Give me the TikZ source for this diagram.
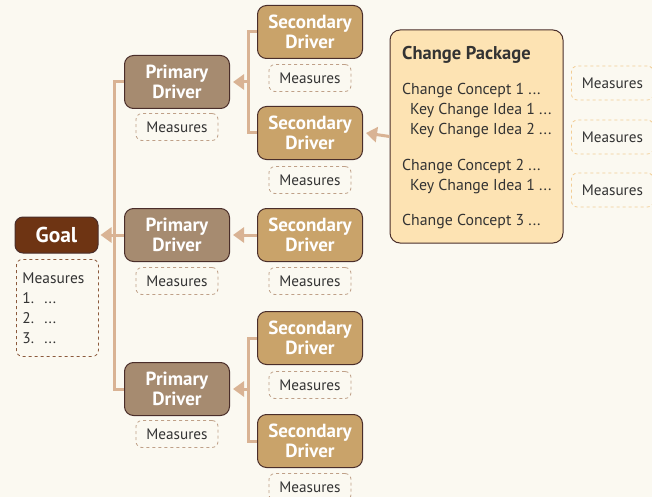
\documentclass[tikz,border=0pt]{standalone}
\usepackage{fontspec}
\setmainfont{PT Sans}
\usetikzlibrary{arrows.meta}

\definecolor{bgcol}{HTML}{FBF9F1}
\definecolor{goalcol}{HTML}{6E3413}
\definecolor{primcol}{HTML}{A68B70}
\definecolor{seccol}{HTML}{C9A36A}
\definecolor{pkgcol}{HTML}{FDE3B3}
\definecolor{edgecol}{HTML}{4A2E2A}
\definecolor{linkcol}{HTML}{D9B394}
\definecolor{meascol}{HTML}{BFA088}
\definecolor{goalmeas}{HTML}{8B5A3C}
\definecolor{pkgmeas}{HTML}{F2CD96}
\definecolor{txtcol}{HTML}{333333}

\begin{document}
\begin{tikzpicture}[x=1pt, y=-1pt,
  driverbox/.style={rectangle, rounded corners=9pt, draw=edgecol, line width=1pt, text=white, font=\bfseries\fontsize{19}{20}\selectfont, align=center, minimum width=105pt, minimum height=53pt, inner sep=0pt},
  primary/.style={driverbox, fill=primcol},
  secondary/.style={driverbox, fill=seccol},
  measbox/.style={rectangle, rounded corners=6pt, draw=meascol, dashed, line width=0.8pt, text=txtcol, font=\fontsize{15.2}{16}\selectfont, minimum width=82pt, minimum height=27pt, inner sep=0pt},
  pkgline/.style={anchor=base west, text=txtcol, font=\fontsize{15.8}{16}\selectfont, inner sep=0pt},
  link/.style={draw=linkcol, line width=3pt},
  linkarrow/.style={link, -{Triangle[width=15pt,length=11pt]}}
]

\fill[bgcol] (0,0) rectangle (652,497);
\useasboundingbox (0,0) rectangle (652,497);

% goal
\node (goal) [rectangle, rounded corners=8pt, draw=edgecol, line width=1pt, fill=goalcol, text=white, font=\bfseries\fontsize{21.5}{22}\selectfont, minimum width=83pt, minimum height=36pt, inner sep=0pt] at (56.5,235) {Goal};
\node (goalm) [measbox, draw=goalmeas, minimum width=82pt, minimum height=97pt, text width=70pt, align=left, anchor=north west, inner sep=6pt, font=\fontsize{15.4}{20}\selectfont] at (16,259) {Measures\\1.\ \ ...\\2.\ \ ...\\3.\ \ ...};

% primary drivers
\node (p1) [primary] at (177,82) {Primary\\Driver};
\node (p2) [primary] at (177,235) {Primary\\Driver};
\node (p3) [primary] at (177,389) {Primary\\Driver};
\node (p1m) [measbox] at (177,127) {Measures};
\node (p2m) [measbox] at (177,281) {Measures};
\node (p3m) [measbox] at (177,434) {Measures};

% secondary drivers
\node (s1) [secondary] at (310,32) {Secondary\\Driver};
\node (s2) [secondary] at (310,133) {Secondary\\Driver};
\node (s3) [secondary] at (310,235) {Secondary\\Driver};
\node (s4) [secondary] at (310,338) {Secondary\\Driver};
\node (s5) [secondary] at (310,441) {Secondary\\Driver};
\node (s1m) [measbox] at (310,78) {Measures};
\node (s2m) [measbox] at (310,180) {Measures};
\node (s3m) [measbox] at (310,281) {Measures};
\node (s4m) [measbox] at (310,385) {Measures};
\node (s5m) [measbox] at (310,487) {Measures};

% change package
\node (cp) [rectangle, rounded corners=10pt, draw=edgecol, line width=1pt, fill=pkgcol, minimum width=173pt, minimum height=213pt] at (476.5,136.5) {};
\node (cptitle) [pkgline, font=\bfseries\fontsize{18.5}{19}\selectfont] at (402,60) {Change Package};
\node (cc1) [pkgline] at (402,95) {Change Concept 1 ...};
\node (ki11) [pkgline] at (410,115) {Key Change Idea 1 ...};
\node (ki12) [pkgline] at (410,134.5) {Key Change Idea 2 ...};
\node (cc2) [pkgline] at (402,170.5) {Change Concept 2 ...};
\node (ki21) [pkgline] at (410,190) {Key Change Idea 1 ...};
\node (cc3) [pkgline] at (402,225) {Change Concept 3 ...};
\node (cm1) [measbox, draw=pkgmeas, minimum height=34pt, anchor=west] at (571,83) {Measures};
\node (cm2) [measbox, draw=pkgmeas, minimum height=34pt, anchor=west] at (571,137) {Measures};
\node (cm3) [measbox, draw=pkgmeas, minimum height=34pt, anchor=west] at (571,190) {Measures};

% connectors
\coordinate (trunk) at (115,235);
\coordinate (b1) at (248,82);
\coordinate (b3) at (248,389);
\draw[link] (p1.west) -- ++(-10,0) |- (p3.west);
\draw[link] (trunk) -- (p2.west);
\draw[linkarrow] (trunk) -- ([xshift=2pt]goal.east);
\draw[link] (s1.west) -- ++(-9,0) |- (s2.west);
\draw[linkarrow] (b1) -- ([xshift=3pt]p1.east);
\draw[linkarrow] (s3.west) -- ([xshift=3pt]p2.east);
\draw[link] (s4.west) -- ++(-9,0) |- (s5.west);
\draw[linkarrow] (b3) -- ([xshift=3pt]p3.east);
\draw[linkarrow] (cp.west) -- ([xshift=3pt]s2.east);

\end{tikzpicture}
\end{document}
